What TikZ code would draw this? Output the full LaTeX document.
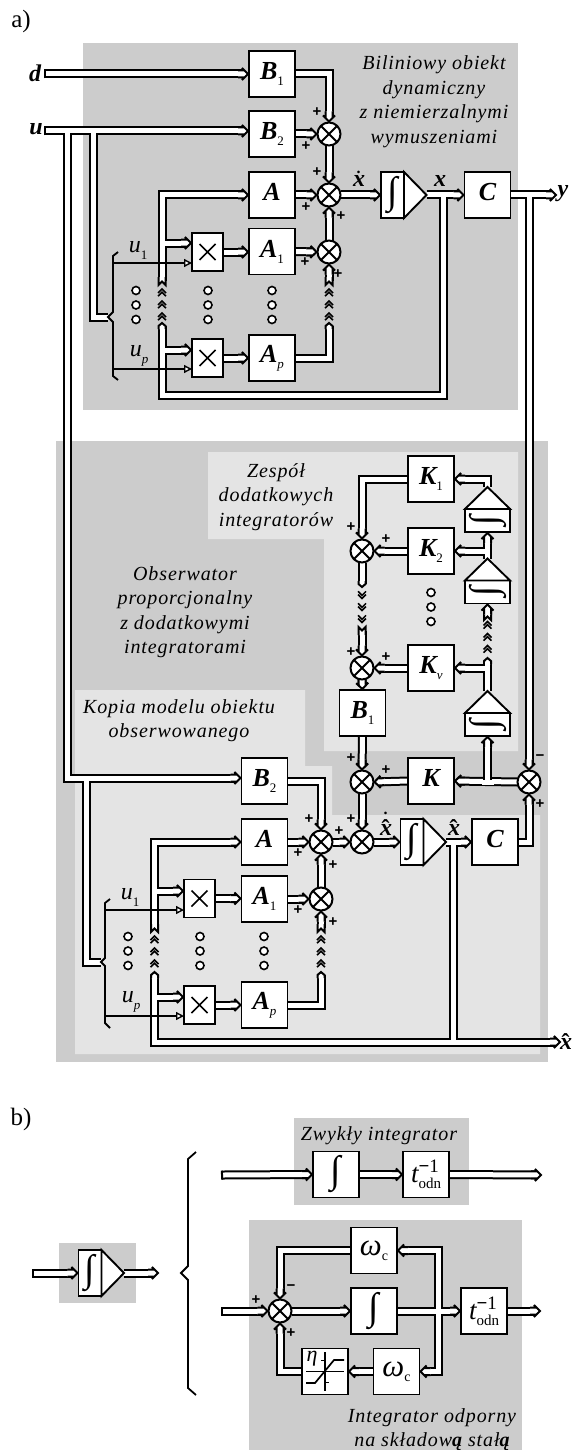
\documentclass[tikz,border=0pt]{standalone}
\usepackage{fontspec}
\usepackage{graphicx}
\setmainfont{Liberation Serif}
\newfontfamily\captfont[LetterSpace=4.5]{Liberation Serif}
\newfontfamily\signfont{Liberation Sans}
\usetikzlibrary{arrows.meta}
\pgfdeclarelayer{bgl}\pgfdeclarelayer{conn}\pgfsetlayers{bgl,conn,main}
\definecolor{darkbg}{HTML}{CCCCCC}
\definecolor{lightbg}{HTML}{E4E4E4}
\pgfdeclarearrow{name=BusHead,
 setup code={\pgfarrowssettipend{0pt}\pgfarrowssetlineend{-7pt}\pgfarrowssetvisualbackend{-8pt}\pgfarrowssetbackend{-11pt}\pgfarrowshullpoint{0pt}{0pt}},
 drawing code={\pgfsetlinewidth{2pt}\pgfsetbuttcap\pgfsetmiterjoin\pgfsetmiterlimit{3}\pgfsetfillcolor{white}\pgfsetstrokecolor{black}%
  \pgfpathmoveto{\pgfqpoint{-11pt}{3.5pt}}\pgfpathlineto{\pgfqpoint{-5pt}{3.5pt}}\pgfpathlineto{\pgfqpoint{-7pt}{6pt}}\pgfpathlineto{\pgfqpoint{-1pt}{0pt}}\pgfpathlineto{\pgfqpoint{-7pt}{-6pt}}\pgfpathlineto{\pgfqpoint{-5pt}{-3.5pt}}\pgfpathlineto{\pgfqpoint{-11pt}{-3.5pt}}\pgfusepathqfillstroke}}
\pgfdeclarearrow{name=BusPoint,
 setup code={\pgfarrowssettipend{0pt}\pgfarrowssetlineend{-3pt}\pgfarrowssetvisualbackend{-3pt}\pgfarrowssetbackend{-6pt}\pgfarrowshullpoint{0pt}{0pt}},
 drawing code={\pgfsetlinewidth{2pt}\pgfsetbuttcap\pgfsetmiterjoin\pgfsetfillcolor{white}\pgfsetstrokecolor{black}%
  \pgfpathmoveto{\pgfqpoint{-6pt}{3.5pt}}\pgfpathlineto{\pgfqpoint{-3pt}{3.5pt}}\pgfpathlineto{\pgfqpoint{0pt}{0pt}}\pgfpathlineto{\pgfqpoint{-3pt}{-3.5pt}}\pgfpathlineto{\pgfqpoint{-6pt}{-3.5pt}}\pgfusepathqfillstroke}}
\pgfdeclarearrow{name=BusNotch,
 setup code={\pgfarrowssettipend{0pt}\pgfarrowssetlineend{-4pt}\pgfarrowssetvisualbackend{-4pt}\pgfarrowssetbackend{-8pt}\pgfarrowshullpoint{0pt}{0pt}},
 drawing code={\pgfsetlinewidth{2pt}\pgfsetbuttcap\pgfsetmiterjoin\pgfsetmiterlimit{3}\pgfsetfillcolor{white}\pgfsetstrokecolor{black}%
  \pgfpathmoveto{\pgfqpoint{-8pt}{3.5pt}}\pgfpathlineto{\pgfqpoint{0pt}{3.5pt}}\pgfpathlineto{\pgfqpoint{-3.5pt}{0pt}}\pgfpathlineto{\pgfqpoint{0pt}{-3.5pt}}\pgfpathlineto{\pgfqpoint{-8pt}{-3.5pt}}\pgfusepathqfillstroke}}
\pgfdeclarearrow{name=BusBar,
 setup code={\pgfarrowssettipend{0pt}\pgfarrowssetlineend{0pt}\pgfarrowssetvisualbackend{0pt}\pgfarrowssetbackend{0pt}\pgfarrowshullpoint{0pt}{0pt}},
 drawing code={\pgfsetlinewidth{2pt}\pgfsetbuttcap\pgfsetstrokecolor{black}%
  \pgfpathmoveto{\pgfqpoint{0pt}{4.5pt}}\pgfpathlineto{\pgfqpoint{0pt}{-4.5pt}}\pgfusepathqstroke}}
\tikzset{
 bus/.style={draw=black,line width=2pt,double=white,double distance=5pt},
 buscore/.style={draw=white,line width=5pt},
 thinline/.style={draw=black,line width=1.6pt},
 thinarrow/.style={thinline,-{Triangle[open,fill=white,length=8pt,width=8pt,line width=1.4pt]}},
 brace/.style={draw=black,line width=1.8pt},
 blk/.style={draw=black,fill=white,line width=1.9pt,rectangle,minimum width=46pt,minimum height=46pt,inner sep=0pt,outer sep=0pt},
 mult/.style={draw=black,fill=white,line width=1.9pt,rectangle,minimum width=31pt,minimum height=38pt,inner sep=0pt,outer sep=0pt,
   path picture={\draw[line width=1.6pt]([xshift=-8pt,yshift=-8pt]path picture bounding box.center)--([xshift=8pt,yshift=8pt]path picture bounding box.center)
     ([xshift=-8pt,yshift=8pt]path picture bounding box.center)--([xshift=8pt,yshift=-8pt]path picture bounding box.center);}},
 sumn/.style={draw=black,fill=white,line width=2pt,circle,minimum size=23pt,inner sep=0pt,outer sep=0pt,
   path picture={\draw[line width=2pt](path picture bounding box.north west)--(path picture bounding box.south east)
     (path picture bounding box.north east)--(path picture bounding box.south west);}},
 intbox/.style={blk,minimum width=23pt,minimum height=46pt},
 intupbox/.style={blk,minimum width=45pt,minimum height=23pt},
 tri/.style={draw=black,fill=white,line width=1.9pt,line join=miter},
 sgn/.style={inner sep=0pt,font=\fontsize{15}{15}\selectfont\signfont\bfseries},
 smalldot/.style={draw=black,fill=white,line width=1.6pt,circle,minimum size=8pt,inner sep=0pt},
 capt/.style={inner sep=0pt,align=center,font=\fontsize{20}{24.5}\selectfont\captfont\itshape},
 sym/.style={inner sep=0pt},
 symb/.style={inner sep=0pt,anchor=base},
 chev/.pic={\foreach \yy in {-12,0,12}{\draw[black,line width=1.5pt,miter limit=3] (-4,\yy+.5)--(0,\yy-3.5)--(4,\yy+.5) (-4,\yy+3.7)--(0,\yy-.3)--(4,\yy+3.7);}},
}
\newcommand\sy[2]{{\fontsize{26}{26}\selectfont\bfseries\itshape #1}\raisebox{-6pt}{\fontsize{13}{13}\selectfont #2}}
\newcommand\ssub[2]{{\fontsize{24}{24}\selectfont\itshape #1}\raisebox{-7pt}{\fontsize{13}{13}\selectfont #2}}
\newcommand\bvar[1]{{\fontsize{24}{24}\selectfont\bfseries\itshape #1}}
\newcommand\hatx{\bvar{\makebox[0pt][l]{\hspace{1.5pt}\raisebox{-1pt}{\upshape\symbol{"02C6}}}x}}
\newcommand\dotx{\bvar{\makebox[0pt][l]{\hspace{3.5pt}\raisebox{13pt}{\fontsize{16}{16}\selectfont\bfseries\upshape.}}x}}
\newcommand\dhatx{\bvar{\makebox[0pt][l]{\hspace{3.5pt}\raisebox{21pt}{\fontsize{16}{16}\selectfont\bfseries\upshape.}}\makebox[0pt][l]{\hspace{1.5pt}\raisebox{-1pt}{\upshape\symbol{"02C6}}}x}}
\newcommand\tinv{{\fontsize{27}{27}\selectfont\itshape t}\makebox[0pt][l]{\raisebox{10pt}{\fontsize{19}{19}\selectfont\bfseries −\mdseries 1}}\raisebox{-6pt}{\fontsize{15}{15}\selectfont odn}}
\newcommand\intglyph{{\fontsize{38}{38}\selectfont ∫}}
\newcommand\omc{{\fontsize{31}{31}\selectfont\itshape ω}\raisebox{-5pt}{\fontsize{14}{14}\selectfont c}}
\newcounter{aux}
\newcommand\sg[3]{\stepcounter{aux}\node[sgn] (sg\arabic{aux}) at (#1,#2) {#3};}
\newcommand\dd[2]{\stepcounter{aux}\node[smalldot] (dotA\arabic{aux}) at (#1,#2-14.5) {};\node[smalldot] (dotB\arabic{aux}) at (#1,#2) {};\node[smalldot] (dotC\arabic{aux}) at (#1,#2+14.5) {};}
\newcommand\intR[3]{\node[intbox] (#1) at (#2,#3) {\intglyph};\path (#1.east) ++(22.5,0) coordinate (#1a);\draw[tri] (#1.north east)--(#1a)--(#1.south east)--cycle;}
\newcommand\intU[3]{\node[intupbox] (#1) at (#2,#3) {\rotatebox{-90}{\intglyph}};\path (#1.north) ++(0,-22) coordinate (#1a);\draw[tri] (#1.north west)--(#1a)--(#1.north east)--cycle;}
\newcommand\jH[2]{\draw[buscore] (#1) ++(-6,0) -- ++(12,0) (#1) -- ++(0,#2);}
\newcommand\jV[2]{\draw[buscore] (#1) ++(0,-6) -- ++(0,12) (#1) -- ++(#2,0);}
\begin{document}
\begin{tikzpicture}[x=1pt,y=-1pt]
\useasboundingbox (0,0) rectangle (573,1450);
\begin{pgfonlayer}{bgl}
\fill[darkbg] (83,43) rectangle (518,410);
\fill[darkbg] (56,441) rectangle (548,1062);
\fill[lightbg] (208,452) -- (518,452) -- (518,751) -- (324,751) -- (324,539) -- (208,539) -- cycle;
\fill[lightbg] (75,690) -- (305,690) -- (305,766) -- (332,766) -- (332,815) -- (540,815) -- (540,1054) -- (75,1054) -- cycle;
\fill[darkbg] (59,1243) rectangle (136,1303);
\fill[darkbg] (294,1118) rectangle (469,1205);
\fill[darkbg] (249,1220) rectangle (522,1450);
\end{pgfonlayer}
% ---------- labels
\node[inner sep=0pt,font=\fontsize{25}{25}\selectfont] (la) at (21,21) {a)};
\node[inner sep=0pt,font=\fontsize{25}{25}\selectfont] (lb) at (21,1119) {b)};
\node[capt] (t1) at (434,101.5) {Biliniowy obiekt\\dynamiczny\\z niemierzalnymi\\wymuszeniami};
\node[capt] (t2) at (276,497) {Zespół\\dodatkowych\\integratorów};
\node[capt] (t3) at (185,612) {Obserwator\\proporcjonalny\\z dodatkowymi\\integratorami};
\node[capt] (t4) at (179,720.5) {Kopia modelu obiektu\\obserwowanego};
\node[capt] (t5) at (379,1136) {Zwykły integrator};
\node[capt] (t6) at (432,1429.5) {Integrator odporny\\na składow{\bfseries ą} stał{\bfseries ą}};
\node[sym] (ld) at (35,73) {\bvar{d}};
\node[sym] (lu) at (36,129) {\bvar{u}};
\node[sym] (ly) at (563,194) {\bvar{y}};
\node[symb] (lxd) at (359,186) {\dotx};
\node[symb] (lx) at (440,186) {\bvar{x}};
\node[symb] (lxh) at (454,835) {\hatx};
\node[symb] (lxdh) at (386,835) {\dhatx};
\node[symb] (lxo) at (566,1049) {\hatx};
\node[sym] (lu1) at (138,250) {\ssub{u}{1}};
\node[sym] (lup) at (139,356) {\ssub{u}{\itshape p}};
\node[sym] (lu1b) at (130,897) {\ssub{u}{1}};
\node[sym] (lupb) at (131,1002) {\ssub{u}{\itshape p}};
% ---------- upper object
\node[blk] (B1) at (272,74) {\sy{B}{1}};
\node[blk] (B2) at (272,134) {\sy{B}{2}};
\node[blk] (A) at (272,195) {\sy{A}{}};
\node[blk] (A1) at (272,251.5) {\sy{A}{1}};
\node[blk] (Ap) at (272,358) {\sy{A}{\itshape p}};
\node[mult] (M1) at (207.5,252) {};
\node[mult] (Mp) at (207.5,358) {};
\node[sumn] (s1) at (329,134) {};
\node[sumn] (s2) at (329,195) {};
\node[sumn] (s3) at (329,252) {};
\intR{I0}{392.5}{195}
\node[blk] (C) at (487.5,195) {\sy{C}{}};
% ---------- observer
\node[blk] (K1) at (431,479) {\sy{K}{1}};
\node[blk] (K2) at (431,551) {\sy{K}{2}};
\node[blk] (Kv) at (431,668) {\sy{K}{\itshape ν}};
\node[blk] (K) at (431,781) {\sy{K}{}};
\node[blk] (B1o) at (362.5,713) {\sy{B}{1}};
\node[blk] (B2o) at (264.5,781) {\sy{B}{2}};
\node[blk] (Ao) at (264.5,842) {\sy{A}{}};
\node[blk] (A1o) at (264.5,899) {\sy{A}{1}};
\node[blk] (Apo) at (264.5,1005) {\sy{A}{\itshape p}};
\node[mult] (M1o) at (199.5,898.5) {};
\node[mult] (Mpo) at (199.5,1005) {};
\node[sumn] (sK1) at (362,551) {};
\node[sumn] (sKv) at (362,668) {};
\node[sumn] (sK) at (362,782) {};
\node[sumn] (s4) at (362,842) {};
\node[sumn] (s1o) at (321,842) {};
\node[sumn] (s3o) at (321,899) {};
\node[sumn] (sR) at (529,782) {};
\intU{Ia}{487.5}{520.5}
\intU{Ib}{487.5}{592}
\intU{Ic}{487.5}{724.5}
\intR{Io}{412}{842}
\node[blk] (Co) at (495,842) {\sy{C}{}};
% ---------- part b
\intR{Is}{90}{1273}
\node[blk] (Z1) at (336,1174.5) {\intglyph};
\node[blk] (Z2) at (426,1174.5) {\tinv};
\node[blk] (Wt) at (374,1250.5) {\omc};
\node[blk] (R1) at (374,1311) {\intglyph};
\node[blk] (R2) at (484,1311) {\tinv};
\node[blk] (Wb) at (396.5,1371.5) {\omc};
\node[blk] (Et) at (325,1371.5) {};
\node[sumn] (sb) at (280,1311) {};
\begin{scope}[shift={(Et.center)}]
\draw[line width=1.5pt] (-19,0) -- (19,0) (0,-19.5) -- (0,19.5);
\draw[line width=1.7pt] (-19,11.5) -- (-10,11.5) -- (9,-11.5) -- (19,-11.5);
\draw[line width=1.5pt] (-4,-11) -- (0,-11) (0,11) -- (4,11);
\end{scope}
\node[inner sep=0pt,font=\fontsize{22}{22}\selectfont\itshape] (etaL) at (312,1359) {η};
% ---------- signs
\sg{317}{112}{+}\sg{306}{146}{+}\sg{317}{172}{+}\sg{306}{207}{+}\sg{341}{216}{+}\sg{305}{262}{+}\sg{338}{274}{+}
\sg{351}{527}{+}\sg{386}{539}{+}\sg{351}{652}{+}\sg{386}{657}{+}\sg{351}{758}{+}\sg{386}{770}{+}
\sg{351}{819}{+}\sg{309}{819}{+}\sg{339}{831}{+}\sg{298}{853}{+}\sg{333}{865}{+}\sg{298}{910}{+}\sg{333}{922}{+}
\sg{540}{758}{−}\sg{540}{804}{+}
\sg{256}{1300}{+}\sg{291}{1288}{−}\sg{291}{1333}{+}
% ---------- dots
\dd{136}{305}\dd{208}{305}\dd{272}{305}
\dd{431}{607}
\dd{128}{951}\dd{200}{951}\dd{264}{951}
% ---------- connectors
\begin{pgfonlayer}{conn}
\coordinate (dS) at (45,74);
\coordinate (uS) at (45,131);
\coordinate (uA) at (67,131);
\coordinate (uB) at (93,131);
\coordinate (bA) at (108,317);
\draw[bus,{BusBar}-{BusHead}] (dS) -- (B1.west);
\draw[bus,{BusBar}-{BusHead}] (uS) -- (uS -| B2.west);
\coordinate (uC) at (67,778);
\coordinate (uD) at (86.5,778);
\coordinate (bB) at (101,962);
\draw[bus,-{BusHead}] (uA) -- (uC) -- (uC -| B2o.west);
\draw[bus] (uB) |- (bA);
\draw[bus] (uD) |- (bB);
\jH{uA}{6}\jH{uB}{6}\jH{uD}{6}
\draw[bus,-{BusHead}] (B1.east) -| (s1.north);
\draw[bus,-{BusHead}] (B2.east) -- (s1.west);
\draw[bus,-{BusHead}] (s1.south) -- (s2.north);
\draw[bus,-{BusHead}] (A.east) -- (s2.west);
\draw[bus,-{BusHead}] (s2.east) -- (I0.west);
\draw[bus,-{BusHead}] (s3.north) -- (s2.south);
\draw[bus,-{BusHead}] (A1.east) -- (s3.west);
\draw[bus,-{BusHead}] (M1.east) -- (A1.west |- M1.east);
\draw[bus,-{BusHead}] (Mp.east) -- (Ap.west);
% x feedback
\coordinate (xJ) at (443,195);
\coordinate (xB) at (443,395);
\coordinate (xP) at (162,323);
\coordinate (xQ) at (162,350);
\coordinate (xN) at (162,285);
\coordinate (xT) at (162,195);
\coordinate (xR) at (162,243);
\draw[bus,-{BusHead}] (I0a) -- (C.west);
\draw[bus,-{BusPoint}] (xJ) -- (xB) -| (xP);
\draw[bus,-{BusHead}] (xQ) -- (xQ -| Mp.west);
\draw[bus,{BusNotch}-{BusHead}] (xN) -- (xT) -- (A.west);
\draw[bus,-{BusHead}] (xR) -- (xR -| M1.west);
\jH{xJ}{6}\jV{xQ}{6}\jV{xR}{6}
% y output
\coordinate (yE) at (557,195);
\coordinate (yJ) at (529,195);
\draw[bus,-{BusHead}] (C.east) -- (yE);
\draw[bus,-{BusHead}] (yJ) -- (sR.north);
\jH{yJ}{6}
\coordinate (pTop) at (329,323);
\coordinate (nTop) at (329,285);
\draw[bus,-{BusPoint}] (Ap.east) -| (pTop);
\draw[bus,{BusNotch}-{BusHead}] (nTop) -- (s3.south);
% additional integrators
\draw[bus,-{BusHead}] (K1.west) -| (sK1.north);
\draw[bus,-{BusHead}] (K2.west) -- (sK1.east);
\draw[bus,-{BusHead}] (Iaa) -- (Iaa |- K1.east) -- (K1.east);
\draw[bus,-{BusHead}] (Iba) -- (Ia.south);
\coordinate (j2) at (487.5,551);
\draw[bus,-{BusHead}] (j2) -- (K2.east);
\jV{j2}{-6}
\coordinate (pI) at (487.5,658);
\coordinate (j3) at (487.5,668);
\draw[bus,-{BusPoint}] (Ica) -- (pI);
\draw[bus,-{BusHead}] (j3) -- (Kv.east);
\jV{j3}{-6}
\coordinate (nI) at (487.5,620);
\draw[bus,{BusNotch}-{BusHead}] (nI) -- (Ib.south);
\coordinate (pS) at (362,587);
\coordinate (nS) at (362,627);
\draw[bus,-{BusPoint}] (sK1.south) -- (pS);
\draw[bus,{BusNotch}-{BusHead}] (nS) -- (sKv.north);
\draw[bus,-{BusHead}] (Kv.west) -- (sKv.east);
\draw[bus,-{BusHead}] (sKv.south) -- (B1o.north);
\draw[bus,-{BusHead}] (B1o.south) -- (sK.north);
\draw[bus,-{BusHead}] (K.west) -- (sK.east);
\draw[bus,-{BusHead}] (sK.south) -- (s4.north);
\draw[bus,-{BusHead}] (sR.west) -- (K.east);
\coordinate (j4) at (487.5,782);
\draw[bus,-{BusHead}] (j4) -- (Ic.south);
\jH{j4}{-6}
\draw[bus,-{BusHead}] (Co.east) -| (sR.south);
% observer copy
\draw[bus,-{BusHead}] (B2o.east) -| (s1o.north);
\draw[bus,-{BusHead}] (Ao.east) -- (s1o.west);
\draw[bus,-{BusHead}] (A1o.east) -- (s3o.west);
\draw[bus,-{BusHead}] (s3o.north) -- (s1o.south);
\draw[bus,-{BusHead}] (s1o.east) -- (s4.west);
\draw[bus,-{BusHead}] (s4.east) -- (Io.west);
\draw[bus,-{BusHead}] (M1o.east) -- (A1o.west |- M1o.east);
\draw[bus,-{BusHead}] (Mpo.east) -- (Apo.west);
\coordinate (hJ) at (453,842);
\coordinate (hB) at (453,1042);
\coordinate (hE) at (561,1042);
\coordinate (hC) at (154.5,1042);
\coordinate (hP) at (154.5,972);
\coordinate (hQ) at (154.5,997);
\coordinate (hN) at (154.5,932);
\coordinate (hT) at (154.5,842);
\coordinate (hR) at (154.5,891);
\draw[bus,-{BusHead}] (Ioa) -- (Co.west);
\draw[bus] (hJ) -- (hB);
\draw[bus,{BusPoint}-{BusHead}] (hP) -- (hC) -- (hE);
\draw[bus,-{BusHead}] (hQ) -- (hQ -| Mpo.west);
\draw[bus,{BusNotch}-{BusHead}] (hN) -- (hT) -- (Ao.west);
\draw[bus,-{BusHead}] (hR) -- (hR -| M1o.west);
\jH{hJ}{6}\jH{hB}{-6}\jV{hQ}{6}\jV{hR}{6}
\coordinate (pTopo) at (321,972);
\coordinate (nTopo) at (321,932);
\draw[bus,-{BusPoint}] (Apo.east) -| (pTopo);
\draw[bus,{BusNotch}-{BusHead}] (nTopo) -- (s3o.south);
% thin lines, braces
\draw[brace] (118,252) -- (113,256) -- (113,312) -- (108,317) -- (113,322) -- (113,376) -- (118,380);
\draw[brace] (110,899) -- (105,903) -- (105,958) -- (101,962) -- (105,966) -- (105,1023) -- (110,1028);
\coordinate (u1S) at (113,263);
\coordinate (upS) at (113,369);
\coordinate (u1So) at (105,910);
\coordinate (upSo) at (105,1016);
\draw[thinarrow] (u1S) -- (u1S -| M1.west);
\draw[thinarrow] (upS) -- (upS -| Mp.west);
\draw[thinarrow] (u1So) -- (u1So -| M1o.west);
\draw[thinarrow] (upSo) -- (upSo -| Mpo.west);
% part b
\draw[brace] (196,1152) -- (188,1159) -- (188,1266) -- (181,1273) -- (188,1280) -- (188,1388) -- (196,1395);
\coordinate (IsS) at (33,1273);
\coordinate (IsE) at (159,1273);
\draw[bus,{BusBar}-{BusHead}] (IsS) -- (Is.west);
\draw[bus,-{BusHead}] (Isa) -- (IsE);
\coordinate (ZS) at (222,1175);
\coordinate (ZE) at (542,1175);
\draw[bus,{BusBar}-{BusHead}] (ZS) -- (Z1.west);
\draw[bus,-{BusHead}] (Z1.east) -- (Z2.west);
\draw[bus,-{BusHead}] (Z2.east) -- (ZE);
\coordinate (RS) at (222,1311);
\coordinate (RE) at (541,1311);
\coordinate (RJ) at (438,1311);
\draw[bus,{BusBar}-{BusHead}] (RS) -- (sb.west);
\draw[bus,-{BusHead}] (sb.east) -- (R1.west);
\draw[bus,-{BusHead}] (R1.east) -- (R2.west);
\draw[bus,-{BusHead}] (R2.east) -- (RE);
\draw[bus,-{BusHead}] (RJ) |- (Wt.east);
\draw[bus,-{BusHead}] (RJ) |- (Wb.east);
\jH{RJ}{6}\jH{RJ}{-6}
\draw[bus,-{BusHead}] (Wt.west) -| (sb.north);
\draw[bus,-{BusHead}] (Wb.west) -- (Et.east);
\draw[bus,-{BusHead}] (Et.west) -| (sb.south);
\end{pgfonlayer}
% ---------- chevrons
\pic (c1) at (162,304.5) {chev};
\pic (c2) at (329,304.5) {chev};
\pic (c3) at (154.5,951.5) {chev};
\pic (c4) at (321,951.5) {chev};
\pic (c5) at (487.5,637) {chev};
\pic[rotate=180] (c6) at (362,607) {chev};
\end{tikzpicture}
\end{document}
